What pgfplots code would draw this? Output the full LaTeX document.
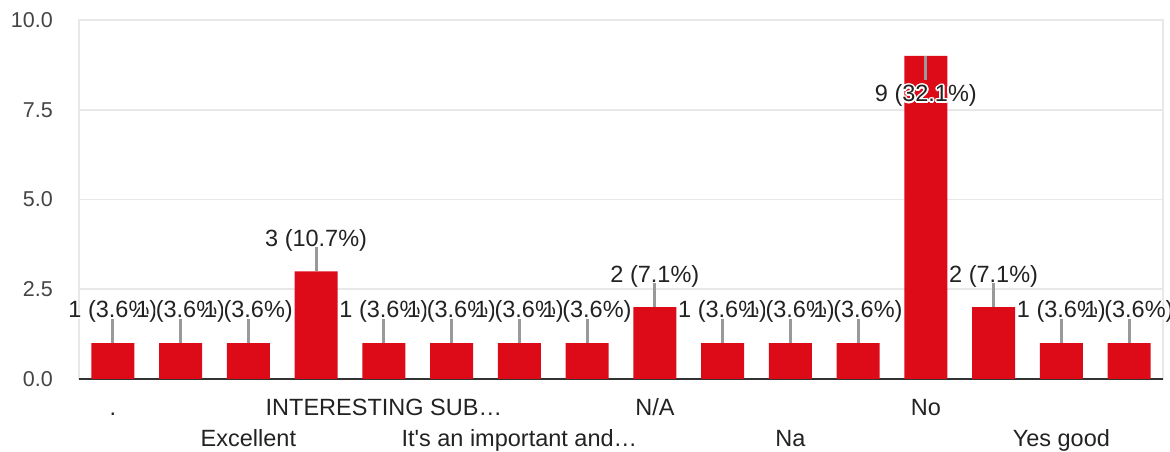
\documentclass[border=0pt]{standalone}
\usepackage{fontspec}
\setmainfont{Liberation Sans}
\usepackage{pgfplots}
\pgfplotsset{compat=1.18}
\usepackage{pgfplotstable}
\usepackage{contour}
\contourlength{1.6pt}
\definecolor{barred}{HTML}{DD0A17}
\definecolor{leader}{HTML}{999999}
\definecolor{labtxt}{HTML}{222222}
\definecolor{ticktxt}{HTML}{444444}
\definecolor{gridc}{HTML}{E8E8E8}
\definecolor{basec}{HTML}{333333}

\pgfplotstableread[col sep=comma]{
x,y,ep,em,ly,lab
0,1,0.67,0,1.70,1 (3.6\%)
1,1,0.67,0,1.70,1 (3.6\%)
2,1,0.67,0,1.70,1 (3.6\%)
3,3,0.67,0,3.70,3 (10.7\%)
4,1,0.67,0,1.70,1 (3.6\%)
5,1,0.67,0,1.70,1 (3.6\%)
6,1,0.67,0,1.70,1 (3.6\%)
7,1,0.67,0,1.70,1 (3.6\%)
8,2,0.67,0,2.70,2 (7.1\%)
9,1,0.67,0,1.70,1 (3.6\%)
10,1,0.67,0,1.70,1 (3.6\%)
11,1,0.67,0,1.70,1 (3.6\%)
12,9,0,0.67,7.72,9 (32.1\%)
13,2,0.67,0,2.70,2 (7.1\%)
14,1,0.67,0,1.70,1 (3.6\%)
15,1,0.67,0,1.70,1 (3.6\%)
}\datatable

\begin{document}
\begin{tikzpicture}
\path[use as bounding box] (-79pt,-73pt) rectangle (1091pt,379pt);
\begin{axis}[
  at={(0pt,0pt)}, anchor=south west,
  scale only axis, width=1084pt, height=359pt,
  xmin=-0.5, xmax=15.5, ymin=0, ymax=10,
  clip=false,
  ytick={0,2.5,5,7.5,10},
  /pgf/number format/fixed,
  /pgf/number format/fixed zerofill,
  /pgf/number format/precision=1,
  /pgf/number format/assume math mode=true,
  yticklabel style={font=\fontsize{21.5}{24}\selectfont, text=ticktxt, anchor=east, inner sep=0pt, xshift=-26pt},
  xtick={0,4,8,12},
  xticklabels={.,INTERESTING SUB…,N/A,No},
  extra x ticks={2,6,10,14},
  extra x tick labels={Excellent,It\textquotesingle s an important and…,Na,Yes good},
  xticklabel style={font=\fontsize{23.5}{28}\selectfont, text=labtxt, anchor=base, inner sep=0pt, yshift=-36pt},
  extra x tick style={xticklabel style={yshift=-31pt}},
  major tick length=0pt,
  axis line style={draw=gridc, line width=1.8pt},
  ymajorgrids,
  grid style={draw=gridc, line width=1.8pt},
  extra y ticks={0},
  extra y tick labels={},
  extra y tick style={grid style={draw=basec, line width=2.8pt}},
]
\addplot[ybar, bar width=43pt, fill=barred, draw=none] table[x=x, y=y]{\datatable};
\addplot[draw=none, mark=none, forget plot,
  error bars/.cd, y dir=both, y explicit,
  error bar style={draw=leader, line width=2.8pt}, error mark=none]
  table[x=x, y=y, y error plus=ep, y error minus=em]{\datatable};
\addplot[draw=none, mark=none, forget plot,
  nodes near coords={\contour{white}{\pgfplotspointmeta}},
  point meta=explicit symbolic,
  every node near coord/.append style={anchor=base, font=\fontsize{23.5}{28}\selectfont, text=labtxt, inner sep=0pt}]
  table[x=x, y=ly, meta=lab]{\datatable};
\end{axis}
\end{tikzpicture}
\end{document}
